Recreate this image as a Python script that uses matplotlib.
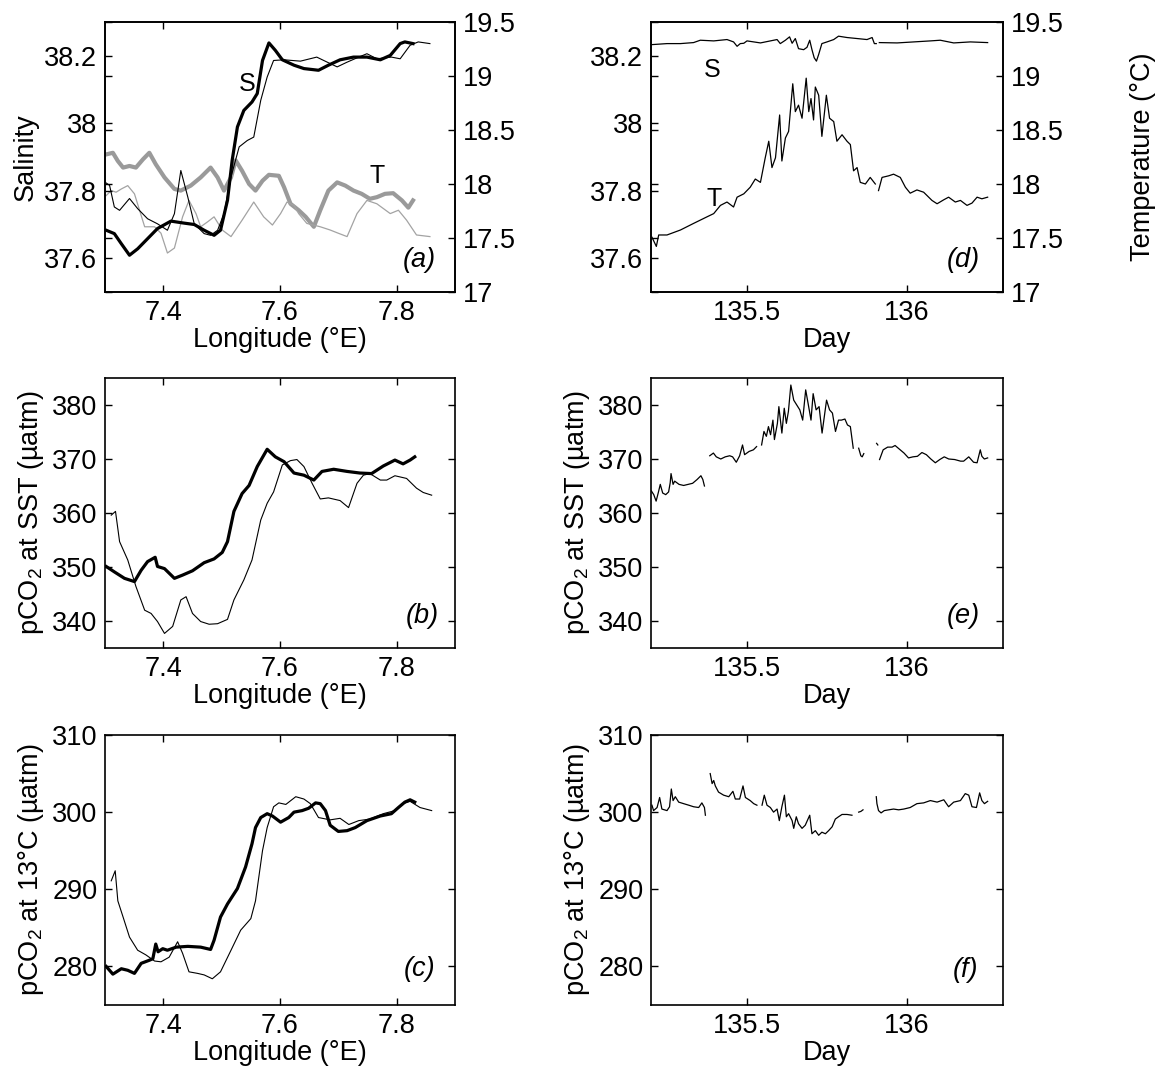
import numpy as np
import matplotlib
matplotlib.use("Agg")
import matplotlib.pyplot as plt

plt.rcParams['font.family'] = ['Liberation Sans', 'DejaVu Sans']
plt.rcParams['font.size'] = 19.5
plt.rcParams['mathtext.fontset'] = 'custom'
plt.rcParams['mathtext.rm'] = 'Liberation Sans'
plt.rcParams['mathtext.it'] = 'Liberation Sans:italic'
plt.rcParams['axes.linewidth'] = 1.2

nan = np.nan

# ---------------- Panel (a): along-track salinity / temperature vs longitude
a_lon_s_thick = [7.302, 7.316, 7.328, 7.342, 7.356, 7.373, 7.390, 7.413, 7.436, 7.453, 7.470, 7.487, 7.498,
                 7.510, 7.518, 7.527, 7.538, 7.552, 7.561, 7.570, 7.581, 7.592, 7.604, 7.624, 7.641, 7.666,
                 7.683, 7.703, 7.726, 7.749, 7.772, 7.789, 7.806, 7.814, 7.828]
a_sal_thick = [37.683, 37.673, 37.643, 37.609, 37.628, 37.658, 37.688, 37.710, 37.704, 37.700, 37.683, 37.668,
               37.683, 37.772, 37.890, 37.989, 38.038, 38.063, 38.088, 38.186, 38.238, 38.216, 38.188, 38.172,
               38.162, 38.157, 38.172, 38.188, 38.196, 38.196, 38.188, 38.201, 38.236, 38.241, 38.236]

a_lon_s_thin = [7.302, 7.3078, 7.316, 7.325, 7.342, 7.356, 7.373, 7.390, 7.407, 7.419, 7.430, 7.442, 7.453,
                7.470, 7.481, 7.493, 7.504, 7.516, 7.530, 7.544, 7.555, 7.567, 7.578, 7.589, 7.607, 7.635,
                7.663, 7.681, 7.698, 7.715, 7.735, 7.749, 7.766, 7.791, 7.806, 7.823, 7.837, 7.857]
a_sal_thin = [37.823, 37.816, 37.752, 37.742, 37.777, 37.747, 37.717, 37.702, 37.683, 37.732, 37.860, 37.781,
              37.702, 37.673, 37.668, 37.683, 37.732, 37.841, 37.930, 37.949, 37.959, 38.068, 38.137, 38.186,
              38.188, 38.184, 38.196, 38.181, 38.167, 38.181, 38.196, 38.206, 38.191, 38.196, 38.191, 38.231,
              38.241, 38.236]

a_lon_t_thick = [7.302, 7.3135, 7.322, 7.331, 7.342, 7.353, 7.365, 7.376, 7.387, 7.402, 7.419, 7.430, 7.447,
                 7.464, 7.481, 7.493, 7.504, 7.516, 7.524, 7.535, 7.547, 7.558, 7.570, 7.581, 7.598, 7.607,
                 7.618, 7.632, 7.644, 7.658, 7.669, 7.683, 7.698, 7.712, 7.726, 7.740, 7.754, 7.766, 7.780,
                 7.794, 7.809, 7.820, 7.828]
a_temp_thick = [18.274, 18.289, 18.213, 18.152, 18.167, 18.152, 18.228, 18.289, 18.183, 18.061, 17.954, 17.939,
                17.985, 18.061, 18.152, 18.061, 17.939, 18.061, 18.219, 18.122, 18.000, 17.939, 18.030, 18.085,
                18.076, 17.970, 17.817, 17.757, 17.696, 17.604, 17.757, 17.939, 18.015, 17.985, 17.939, 17.909,
                17.863, 17.878, 17.909, 17.915, 17.848, 17.781, 17.848]

a_lon_t_thin = [7.302, 7.3107, 7.319, 7.328, 7.339, 7.3505, 7.368, 7.385, 7.396, 7.407, 7.419, 7.433, 7.444,
                7.456, 7.464, 7.476, 7.487, 7.501, 7.516, 7.535, 7.555, 7.572, 7.587, 7.601, 7.612, 7.624,
                7.632, 7.646, 7.669, 7.686, 7.700, 7.715, 7.732, 7.749, 7.766, 7.789, 7.803, 7.817, 7.834, 7.857]
a_temp_thin = [17.893, 17.939, 17.924, 17.954, 17.985, 17.909, 17.604, 17.604, 17.544, 17.361, 17.407, 17.696,
               17.848, 17.726, 17.604, 17.650, 17.696, 17.574, 17.513, 17.665, 17.833, 17.696, 17.620, 17.726,
               17.833, 17.802, 17.726, 17.635, 17.604, 17.574, 17.544, 17.513, 17.726, 17.848, 17.817, 17.726,
               17.757, 17.665, 17.528, 17.513]

# ---------------- Panel (b): pCO2 at SST vs longitude
b_lon_thick = [7.302, 7.316, 7.3334, 7.3505, 7.362, 7.373, 7.386, 7.390, 7.402, 7.419, 7.433, 7.450, 7.470,
               7.487, 7.501, 7.510, 7.521, 7.535, 7.547, 7.561, 7.578, 7.592, 7.607, 7.624, 7.641, 7.658,
               7.672, 7.692, 7.715, 7.737, 7.757, 7.777, 7.797, 7.811, 7.823, 7.831]
b_pco2_thick = [350.1, 349.1, 347.9, 347.3, 349.4, 351.0, 351.8, 350.1, 349.7, 347.9, 348.5, 349.3, 350.8,
                351.5, 352.7, 354.7, 360.3, 363.6, 365.1, 368.6, 371.8, 370.4, 369.5, 367.4, 367.0, 366.1,
                367.7, 368.1, 367.7, 367.4, 367.3, 368.7, 369.8, 369.1, 369.8, 370.4]
b_lon_thin = [7.3107, 7.318, 7.325, 7.339, 7.353, 7.368, 7.379, 7.390, 7.402, 7.416, 7.430, 7.439, 7.450,
              7.464, 7.4785, 7.493, 7.510, 7.521, 7.538, 7.552, 7.567, 7.578, 7.589, 7.604, 7.618, 7.629,
              7.641, 7.655, 7.669, 7.683, 7.703, 7.7175, 7.732, 7.743, 7.754, 7.772, 7.783, 7.797, 7.817,
              7.834, 7.8455, 7.860]
b_pco2_thin = [359.6, 360.3, 354.7, 351.3, 346.4, 342.0, 341.4, 339.9, 337.7, 339.0, 343.9, 344.5, 341.4,
               339.9, 339.4, 339.5, 340.3, 343.9, 347.6, 351.3, 358.7, 361.8, 363.9, 368.9, 369.7, 369.9,
               368.6, 365.5, 362.6, 362.8, 362.3, 361.0, 365.5, 367.0, 367.3, 366.1, 366.1, 366.9, 366.4,
               364.6, 363.8, 363.3]

# ---------------- Panel (c): pCO2 at 13 °C vs longitude
c_lon_thick = [7.302, 7.3135, 7.328, 7.339, 7.3505, 7.362, 7.376, 7.382, 7.387, 7.391, 7.399, 7.407, 7.422,
               7.442, 7.464, 7.481, 7.487, 7.498, 7.510, 7.527, 7.541, 7.552, 7.558, 7.567, 7.578, 7.587,
               7.601, 7.615, 7.624, 7.638, 7.649, 7.661, 7.669, 7.678, 7.686, 7.700, 7.715, 7.729, 7.749,
               7.772, 7.791, 7.803, 7.814, 7.823, 7.831]
c_pco2_thick = [280.0, 279.0, 279.7, 279.5, 279.1, 280.4, 280.8, 281.0, 282.9, 281.9, 282.3, 282.1, 282.5,
                282.6, 282.5, 282.2, 283.4, 286.4, 288.1, 290.1, 292.9, 295.9, 298.0, 299.3, 299.8, 299.5,
                298.7, 299.3, 300.0, 300.2, 300.5, 301.2, 301.1, 300.2, 298.3, 297.5, 297.6, 298.0, 298.9,
                299.5, 299.8, 300.6, 301.3, 301.6, 301.3]
c_lon_thin = [7.3107, 7.3175, 7.322, 7.331, 7.342, 7.356, 7.370, 7.385, 7.396, 7.410, 7.4245, 7.433, 7.444,
              7.4586, 7.470, 7.484, 7.498, 7.516, 7.5326, 7.550, 7.558, 7.570, 7.578, 7.589, 7.598, 7.610,
              7.627, 7.641, 7.652, 7.666, 7.686, 7.703, 7.718, 7.735, 7.754, 7.777, 7.797, 7.811, 7.823,
              7.840, 7.860]
c_pco2_thin = [291.1, 292.4, 288.5, 286.4, 283.8, 282.1, 281.5, 280.7, 280.6, 281.2, 283.2, 281.7, 279.3,
               279.1, 278.9, 278.4, 279.3, 282.1, 284.7, 286.2, 288.5, 295.0, 298.0, 300.7, 301.2, 301.0,
               302.0, 301.7, 301.1, 299.3, 299.0, 299.2, 298.4, 298.9, 299.1, 299.8, 300.2, 301.1, 301.4,
               300.6, 300.2]

# ---------------- Panel (d): time series of salinity / temperature
d_day_s = [135.203, 135.250, 135.292, 135.333, 135.354, 135.396, 135.4375, 135.458, 135.469, 135.479,
           135.490, 135.500, 135.542, 135.573, 135.594, 135.604, 135.620, 135.633, 135.641, 135.651, 135.661,
           135.677, 135.6875, 135.696, 135.703, 135.710, 135.717, 135.724, 135.734, 135.750, 135.771, 135.786,
           135.8125, 135.844, 135.875, 135.891, 135.898, 135.904, 135.908, 135.9135, 135.969, 136.021,
           136.073, 136.104, 136.146, 136.198, 136.252]
d_sal = [38.233, 38.236, 38.236, 38.239, 38.246, 38.244, 38.248, 38.241, 38.228, 38.236, 38.237, 38.244,
         38.238, 38.244, 38.248, 38.236, 38.246, 38.256, 38.237, 38.251, 38.221, 38.218, 38.225, 38.246,
         38.218, 38.194, 38.184, 38.204, 38.236, 38.241, 38.248, 38.258, 38.254, 38.251, 38.248, 38.254,
         38.236, 38.236, nan, 38.239, 38.238, 38.241, 38.244, 38.246, 38.238, 38.241, 38.239]

d_day_t = [135.203, 135.2167, 135.224, 135.250, 135.292, 135.333, 135.375, 135.396, 135.417, 135.4375,
           135.458, 135.469, 135.490, 135.510, 135.526, 135.542, 135.557, 135.568, 135.578, 135.589, 135.602,
           135.609, 135.620, 135.630, 135.643, 135.651, 135.661, 135.672, 135.685, 135.693, 135.700, 135.708,
           135.7135, 135.724, 135.734, 135.748, 135.758, 135.771, 135.781, 135.797, 135.8125, 135.823,
           135.833, 135.844, 135.854, 135.870, 135.885, 135.901, 135.906, 135.911, 135.922, 135.943, 135.958,
           135.979, 135.995, 136.010, 136.031, 136.052, 136.078, 136.094, 136.115, 136.130, 136.151, 136.167,
           136.1875, 136.203, 136.219, 136.234, 136.252]
d_temp = [17.507, 17.422, 17.528, 17.528, 17.574, 17.635, 17.696, 17.726, 17.802, 17.833, 17.787, 17.878,
          17.909, 17.970, 18.046, 18.015, 18.243, 18.396, 18.152, 18.243, 18.639, 18.213, 18.426, 18.487,
          18.928, 18.670, 18.730, 18.609, 18.980, 18.670, 18.791, 18.593, 18.898, 18.822, 18.441, 18.822,
          18.609, 18.578, 18.396, 18.456, 18.396, 18.365, 18.122, 18.152, 18.015, 18.000, 18.061, 18.000,
          nan, 17.939, 18.061, 18.076, 18.091, 18.061, 17.970, 17.915, 17.945, 17.924, 17.848, 17.817,
          17.854, 17.878, 17.833, 17.848, 17.802, 17.823, 17.878, 17.863, 17.878]

# ---------------- Panel (e): time series pCO2 at SST
e_day = [135.201, 135.2086, 135.216, 135.2225, 135.229, 135.2365, 135.246, 135.255, 135.260, 135.2626,
         135.269, 135.274, 135.2877, 135.302, 135.316, 135.330, 135.344, 135.356, 135.362, 135.367, 135.375,
         135.3836, 135.395, 135.404, 135.418, 135.432, 135.446, 135.455, 135.4665, 135.477, 135.486,
         135.4925, 135.5065, 135.520, 135.530, 135.538,
         135.5456, 135.553, 135.5605, 135.567, 135.5736, 135.581, 135.5857, 135.595, 135.5996, 135.609,
         135.6164, 135.623, 135.6294, 135.637, 135.646, 135.6555, 135.665, 135.674, 135.6834, 135.6927,
         135.700, 135.7067, 135.716, 135.7253, 135.7346, 135.7486, 135.758, 135.767, 135.7765, 135.786,
         135.795, 135.806, 135.814, 135.823, 135.832, 135.840,
         135.849, 135.8557, 135.860, 135.865, 135.880,
         135.905, 135.9088, 135.911,
         135.9143, 135.9255, 135.9395, 135.9534, 135.9628, 135.9767, 135.9907, 136.0047, 136.0186,
         136.0326, 136.0466, 136.0605, 136.0745, 136.0885, 136.1024, 136.1164, 136.1304, 136.149,
         136.1676, 136.177, 136.193, 136.208, 136.219, 136.229, 136.234, 136.2417, 136.252]
e_pco2 = [364.1, 363.4, 362.2, 363.7, 365.3, 363.7, 363.4, 363.9, 365.6, 367.3,
          365.3, 365.9, 365.3, 365.1, 365.3, 365.5, 366.2, 366.9, 366.2, 365.0, nan,
          370.6, 371.1, 370.4, 370.0, 370.4, 370.6, 370.4, 369.4, 370.6, 372.6,
          370.8, 371.4, 371.7, 372.3, nan,
          372.6, 375.1, 374.2, 376.0, 374.5, 377.2, 373.6, 376.6, 379.7, 374.8,
          379.4, 376.6, 378.8, 383.7, 380.9, 380.0, 379.1, 377.2, 382.8, 379.7,
          377.2, 382.1, 379.1, 379.7, 374.8, 380.9, 379.1, 378.5, 375.1, 377.2,
          377.2, 377.4, 376.3, 376.0, 372.0, nan,
          372.0, 370.6, 370.4, 371.0, nan,
          372.9, 372.6, nan,
          369.9, 371.7, 372.2, 372.2, 372.5, 371.8, 371.1, 370.2, 370.4,
          370.5, 371.2, 370.8, 370.0, 369.3, 369.9, 370.4, 370.0, 369.9,
          369.6, 369.6, 370.4, 369.4, 369.3, 371.7, 370.5, 370.0, 370.2]

# ---------------- Panel (f): time series pCO2 at 13 °C
f_day = [135.203, 135.208, 135.219, 135.227, 135.234, 135.250, 135.258, 135.2635, 135.269, 135.276,
         135.2865, 135.302, 135.318, 135.333, 135.349, 135.359, 135.367, 135.370, 135.377,
         135.385, 135.391, 135.396, 135.401, 135.411, 135.427, 135.443, 135.456, 135.4635, 135.477,
         135.4875, 135.495, 135.510, 135.521, 135.531, 135.539,
         135.547, 135.554, 135.5625, 135.573, 135.583, 135.594, 135.601, 135.609, 135.617, 135.623,
         135.630, 135.641, 135.646, 135.654, 135.661, 135.672, 135.682, 135.696, 135.703, 135.7135,
         135.724, 135.734, 135.745, 135.755, 135.766, 135.776, 135.786, 135.797, 135.8125, 135.828, 135.838,
         135.849, 135.856, 135.8625, 135.880,
         135.904, 135.906, 135.911, 135.919, 135.929, 135.943, 135.958, 135.974, 135.990, 136.010,
         136.031, 136.052, 136.073, 136.094, 136.115, 136.130, 136.146, 136.167, 136.182, 136.193,
         136.203, 136.217, 136.227, 136.234, 136.242, 136.252]
f_pco2 = [300.9, 300.2, 300.6, 301.9, 300.4, 300.2, 300.7, 303.0, 301.5, 302.0,
          301.3, 301.1, 300.9, 300.7, 300.6, 301.2, 300.6, 299.6, nan,
          305.0, 303.7, 304.1, 303.4, 302.6, 302.2, 302.0, 302.7, 301.7, 301.7,
          303.4, 301.9, 301.5, 301.1, 300.9, nan,
          300.9, 302.2, 300.9, 300.6, 300.0, 300.4, 298.9, 300.7, 302.2, 299.4,
          299.8, 298.9, 297.9, 299.4, 298.5, 297.9, 298.3, 299.6, 297.2, 297.6,
          297.0, 297.4, 297.2, 297.6, 298.1, 299.1, 299.4, 299.7, 299.7, 299.6, nan,
          300.0, 300.1, 300.3, nan,
          302.0, 301.1, 300.2, 299.9, 300.2, 300.3, 300.4, 300.3, 300.4, 300.6,
          301.1, 301.2, 301.5, 301.3, 301.6, 300.7, 301.3, 301.5, 302.4, 302.2,
          300.7, 300.6, 302.5, 301.5, 301.1, 301.4]

# ---------------- ticks / labels
lon_ticks = [7.4, 7.6, 7.8]
lon_ticklabels = ['7.4', '7.6', '7.8']
day_ticks = [135.5, 136.0]
day_ticklabels = ['135.5', '136']
sal_ticks = [37.6, 37.8, 38.0, 38.2]
sal_ticklabels = ['37.6', '37.8', '38', '38.2']
temp_ticks = [17, 17.5, 18, 18.5, 19, 19.5]
temp_ticklabels = ['17', '17.5', '18', '18.5', '19', '19.5']
sst_ticks = [340, 350, 360, 370, 380]
sst_ticklabels = ['340', '350', '360', '370', '380']
t13_ticks = [280, 290, 300, 310]
t13_ticklabels = ['280', '290', '300', '310']
panel_letters = ['(a)', '(b)', '(c)', '(d)', '(e)', '(f)']

W, H = 1168, 1082
fig = plt.figure(figsize=(W / 100, H / 100), dpi=100)


def px_axes(x0, y0, x1, y1):
    return fig.add_axes([x0 / W, 1 - y1 / H, (x1 - x0) / W, (y1 - y0) / H])


FS = 19.5
PAD = 5.5


def style(ax, right=True):
    ax.tick_params(direction='in', length=5, width=1.0, top=True, right=right, pad=PAD, labelsize=FS)


rows = [(22, 292), (378, 648), (735, 1005)]
colL = (105, 455)
colR = (651, 1003)

axA = px_axes(colL[0], rows[0][0], colL[1], rows[0][1])
axB = px_axes(colL[0], rows[1][0], colL[1], rows[1][1])
axC = px_axes(colL[0], rows[2][0], colL[1], rows[2][1])
axD = px_axes(colR[0], rows[0][0], colR[1], rows[0][1])
axE = px_axes(colR[0], rows[1][0], colR[1], rows[1][1])
axF = px_axes(colR[0], rows[2][0], colR[1], rows[2][1])

gray = '#9a9a9a'
lw_thick, lw_thin = 2.3, 0.8

# (a)
axA2 = axA.twinx()
axA2.plot(a_lon_t_thick, a_temp_thick, color=gray, lw=3.0, solid_joinstyle='round')
axA2.plot(a_lon_t_thin, a_temp_thin, color='#a3a3a3', lw=0.9)
axA.plot(a_lon_s_thick, a_sal_thick, color='black', lw=lw_thick, solid_joinstyle='round')
axA.plot(a_lon_s_thin, a_sal_thin, color='black', lw=lw_thin)
axA.set_zorder(axA2.get_zorder() + 1)
axA.patch.set_visible(False)
axA.text(7.544, 38.117, 'S', ha='center', va='center', fontsize=18)
axA2.text(7.766, 18.076, 'T', ha='center', va='center', fontsize=18)

# (d)
axD2 = axD.twinx()
axD2.plot(d_day_t, d_temp, color='black', lw=0.9)
axD.plot(d_day_s, d_sal, color='black', lw=0.9)
axD.text(135.391, 38.157, 'S', ha='center', va='center', fontsize=18)
axD.text(135.396, 37.777, 'T', ha='center', va='center', fontsize=18)

for ax, ax2 in ((axA, axA2), (axD, axD2)):
    ax.set_ylim(37.5, 38.3)
    ax.set_yticks(sal_ticks)
    ax.set_yticklabels(sal_ticklabels)
    ax2.set_ylim(17, 19.5)
    ax2.set_yticks(temp_ticks)
    ax2.set_yticklabels(temp_ticklabels)
    style(ax, right=False)
    ax2.tick_params(direction='in', length=5, width=1.0, pad=PAD, labelsize=FS, left=True, labelleft=False)

axA.set_ylabel('Salinity', labelpad=4)
axD2.set_ylabel('Temperature (°C)', labelpad=48)

# (b)
axB.plot(b_lon_thick, b_pco2_thick, color='black', lw=lw_thick, solid_joinstyle='round')
axB.plot(b_lon_thin, b_pco2_thin, color='black', lw=lw_thin)
# (c)
axC.plot(c_lon_thick, c_pco2_thick, color='black', lw=lw_thick, solid_joinstyle='round')
axC.plot(c_lon_thin, c_pco2_thin, color='black', lw=lw_thin)
# (e), (f)
axE.plot(e_day, e_pco2, color='black', lw=0.9)
axF.plot(f_day, f_pco2, color='black', lw=0.9)

for ax in (axB, axE):
    ax.set_ylim(335, 385)
    ax.set_yticks(sst_ticks)
    ax.set_yticklabels(sst_ticklabels)
    ax.set_ylabel('pCO$_2$ at SST (µatm)', labelpad=4)
    style(ax)
for ax in (axC, axF):
    ax.set_ylim(275, 310)
    ax.set_yticks(t13_ticks)
    ax.set_yticklabels(t13_ticklabels)
    ax.set_ylabel('pCO$_2$ at 13°C (µatm)', labelpad=4)
    style(ax)

for ax in (axA, axB, axC):
    ax.set_xlim(7.3, 7.9)
    ax.set_xticks(lon_ticks)
    ax.set_xticklabels(lon_ticklabels)
    ax.set_xlabel('Longitude (°E)', labelpad=1)
for ax in (axD, axE, axF):
    ax.set_xlim(135.2, 136.3)
    ax.set_xticks(day_ticks)
    ax.set_xticklabels(day_ticklabels)
    ax.set_xlabel('Day', labelpad=1)

letter_pos = {'(a)': (0.945, 0.12), '(b)': (0.955, 0.12), '(c)': (0.945, 0.135),
              '(d)': (0.935, 0.12), '(e)': (0.935, 0.12), '(f)': (0.93, 0.13)}
for ax, lab in zip((axA, axB, axC, axD, axE, axF), panel_letters):
    x, y = letter_pos[lab]
    ax.text(x, y, lab, transform=ax.transAxes, ha='right', va='center', fontsize=FS, style='italic')

fig.savefig('out.png', dpi=100)
